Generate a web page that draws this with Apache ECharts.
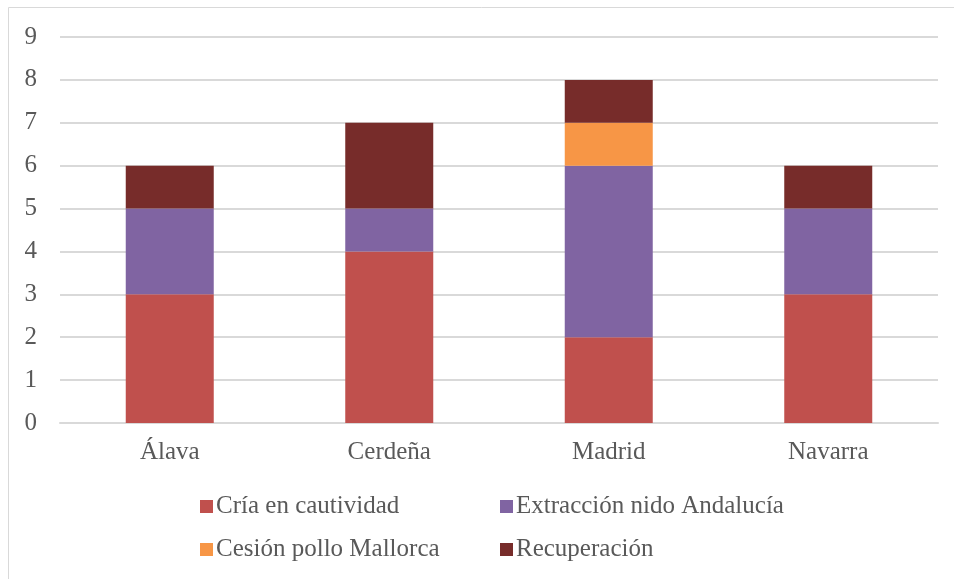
<!DOCTYPE html>
<html><head><meta charset="utf-8">
<script src="https://cdn.jsdelivr.net/npm/echarts@6/dist/echarts.min.js"></script>
<style>html,body{margin:0;padding:0;background:#fff}#c{width:954px;height:579px}</style>
</head><body><div id="c"></div>
<script>
const categories = ['Álava', 'Cerdeña', 'Madrid', 'Navarra'];
const seriesNames = ['Cría en cautividad', 'Extracción nido Andalucía', 'Cesión pollo Mallorca', 'Recuperación'];
const criaValues = [3, 4, 2, 3];
const extraccionValues = [2, 1, 4, 2];
const cesionValues = [0, 0, 1, 0];
const recuperacionValues = [1, 2, 1, 1];
const yTicks = [0, 1, 2, 3, 4, 5, 6, 7, 8, 9];

const colors = ['#C0504D', '#8064A2', '#F79646', '#772C2A'];
const font = '"Liberation Serif", "DejaVu Serif", serif';
const txt = '#595959';
const valuesList = [criaValues, extraccionValues, cesionValues, recuperacionValues];

const chart = echarts.init(document.getElementById('c'), null, {renderer: 'canvas'});
const legendPos = [[200, 494], [500, 494], [200, 537], [500, 537]];
chart.setOption({
  animation: false,
  color: colors,
  graphic: [{type: 'rect', shape: {x: 8.5, y: 7.5, width: 960, height: 600}, style: {fill: 'none', stroke: '#D9D9D9', lineWidth: 1}, silent: true}],
  grid: {left: 60, right: 16, top: 37, bottom: 156, containLabel: false},
  legend: seriesNames.map((n, i) => ({
    data: [n], left: legendPos[i][0], top: legendPos[i][1], icon: 'rect', itemWidth: 13, itemHeight: 13, itemGap: 0,
    textStyle: {fontFamily: font, fontSize: 25, color: txt, padding: [0, 0, 0, -2]}, padding: 0
  })),
  xAxis: {
    type: 'category', data: categories,
    axisLine: {lineStyle: {color: '#D9D9D9', width: 2}}, axisTick: {show: false},
    axisLabel: {fontFamily: font, fontSize: 25, color: txt, margin: 17}
  },
  yAxis: {
    type: 'value', min: yTicks[0], max: yTicks[yTicks.length - 1], interval: 1,
    axisLine: {show: false}, axisTick: {show: false},
    splitLine: {lineStyle: {color: '#D9D9D9', width: 2}},
    axisLabel: {fontFamily: font, fontSize: 25, color: txt, margin: 23}
  },
  series: seriesNames.map((n, i) => ({
    name: n, type: 'bar', stack: 'total', barWidth: 88, data: valuesList[i]
  }))
});
</script></body></html>
